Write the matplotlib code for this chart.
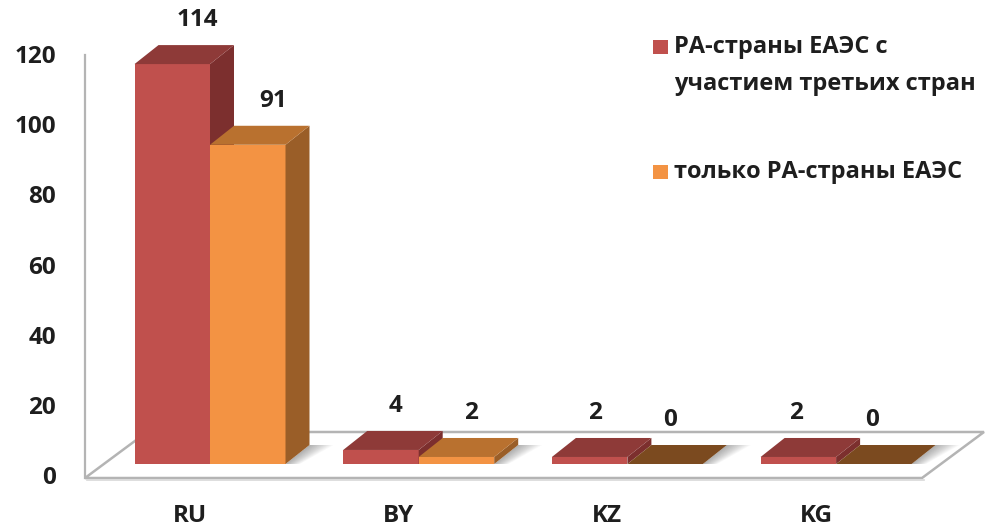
import matplotlib
matplotlib.use("Agg")
import matplotlib.pyplot as plt
from matplotlib.patches import Polygon
import numpy as np

# ---- data ----
categories = ["RU", "BY", "KZ", "KG"]
series_names = ["РА-страны ЕАЭС с\nучастием третьих стран", "только РА-страны ЕАЭС"]
with_third = [114, 4, 2, 2]
eaeu_only = [91, 2, 0, 0]
y_ticks = [0, 20, 40, 60, 80, 100, 120]

# ---- styling ----
FONT = "Open Sans"
W, H, DPI = 992, 527, 100
PX_X = 208.7          # pixels per category step
PX_Y = 3.508          # pixels per value unit
X0_PX, Y0_PX = 210, 478   # pixel position of first category / zero line

faces = {
    "red": dict(front="#C0504D", top="#8E3A38", side="#7C2F2E"),
    "orange": dict(front="#F39343", top="#B9712F", side="#9A5E28"),
}
zero_top = "#7B4A1F"
text_color = "#1E1E1E"

bar_w = 75.5 / PX_X
depth_dx = 24 / PX_X
depth_dy = 19 / PX_Y
base = 14 / PX_Y

fig = plt.figure(figsize=(W / DPI, H / DPI), dpi=DPI)
ax = fig.add_axes([0, 0, 1, 1])
ax.set_xlim(-X0_PX / PX_X, (W - X0_PX) / PX_X)
ax.set_ylim(-(H - Y0_PX) / PX_Y, Y0_PX / PX_Y)
ax.axis("off")

def px_x(p):
    return (p - X0_PX) / PX_X

def px_y(p):
    return (Y0_PX - p) / PX_Y

# floor slab
fdx = 62 / PX_X
fdy = 46 / PX_Y
fl, fr = px_x(85), px_x(922)
floor = Polygon([(fl, 0), (fr, 0), (fr + fdx, fdy), (fl + fdx, fdy)],
                closed=True, facecolor="white", edgecolor="#B4B4B4", lw=1.8, zorder=1)
ax.add_patch(floor)
ax.plot([fl + 0.01, fr + 0.01], [-0.7, -0.7], color="#D8D8D8", lw=1.2, zorder=1)

# vertical axis line
ax.plot([fl, fl], [0, px_y(55)], color="#B4B4B4", lw=1.6, zorder=1)

# soft shadows on the floor, fading out to the right of each bar pair
xs = np.arange(len(categories))
n_steps = 12
for i in xs:
    sx = i + bar_w
    for k in range(n_steps):
        w = (k + 1) * 2.0 / PX_X
        ax.add_patch(Polygon([(sx, base), (sx + w * 0.6, base),
                              (sx + depth_dx + w, base + depth_dy),
                              (sx + depth_dx, base + depth_dy)],
                             closed=True, facecolor="#000000", alpha=0.028, lw=0, zorder=1.5))

def draw_bar(x_left, value, col):
    c = faces[col]
    x_right = x_left + bar_w
    top = base + value
    if value > 0:
        ax.bar(x_left, value, width=bar_w, bottom=base, align="edge",
               color=c["front"], lw=0, zorder=2)
        ax.add_patch(Polygon([(x_right, base), (x_right, top),
                              (x_right + depth_dx, top + depth_dy),
                              (x_right + depth_dx, base + depth_dy)],
                             closed=True, facecolor=c["side"], lw=0, zorder=2))
        top_color = c["top"]
    else:
        top_color = zero_top
    ax.add_patch(Polygon([(x_left, top), (x_right, top),
                          (x_right + depth_dx, top + depth_dy),
                          (x_left + depth_dx, top + depth_dy)],
                         closed=True, facecolor=top_color, lw=0, zorder=2))

label_shift_px = [13, 3, -7, -14]
label_gap = 25 / PX_Y
for i, cat in enumerate(categories):
    for j, (vals, col) in enumerate([(with_third, "red"), (eaeu_only, "orange")]):
        x_left = i - bar_w + j * bar_w
        v = vals[i]
        draw_bar(x_left, v, col)
        cx = x_left + bar_w / 2 + depth_dx / 2 + label_shift_px[i] / PX_X
        ax.text(cx, base + v + depth_dy + label_gap, f"{v}", ha="center", va="center",
                fontsize=17.5, fontweight="bold", family=FONT, color=text_color, zorder=5)
    ax.text(i - 20 / PX_X, px_y(516), cat, ha="center", va="center",
            fontsize=17.5, fontweight="bold", family=FONT, color=text_color)

# value axis labels
for t in y_ticks:
    ax.text(px_x(56), t, f"{t}", ha="right", va="center",
            fontsize=17.5, fontweight="bold", family=FONT, color=text_color)

# legend
leg_colors = [faces["red"]["front"], faces["orange"]["front"]]
leg_y = [47, 172]
line_step = 37
for name, c, yy in zip(series_names, leg_colors, leg_y):
    ax.add_patch(Polygon([(px_x(653), px_y(yy - 7)), (px_x(668), px_y(yy - 7)),
                          (px_x(668), px_y(yy + 7)), (px_x(653), px_y(yy + 7))],
                         closed=True, facecolor=c, lw=0))
    for k, line in enumerate(name.split("\n")):
        ax.text(px_x(674), px_y(yy + k * line_step), line, ha="left", va="center",
                fontsize=17, fontweight="bold", family=FONT, color=text_color)

fig.savefig("out.png", dpi=DPI)
